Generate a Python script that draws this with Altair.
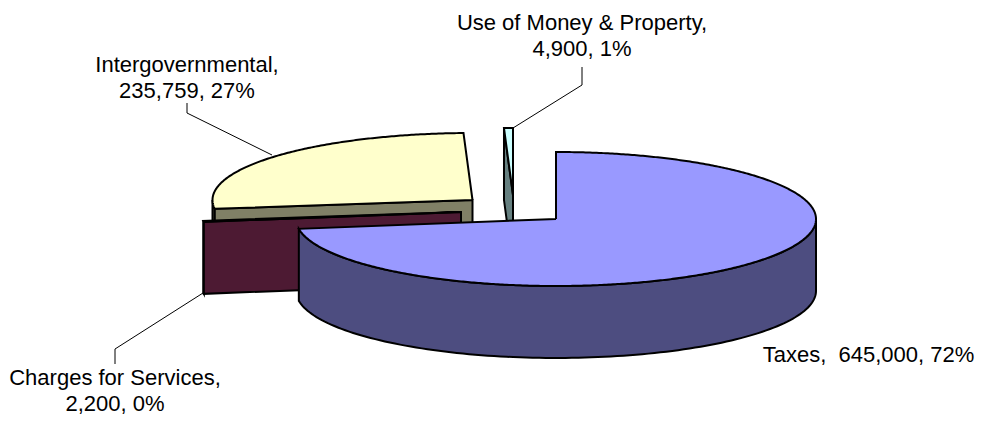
import altair as alt
import numpy as np
import pandas as pd

categories = ["Taxes", "Charges for Services", "Intergovernmental", "Use of Money & Property"]
amounts = [645000, 2200, 235759, 4900]
top_colors = ["#9999FF", "#993366", "#FFFFCC", "#CCFFFF"]
wall_colors = ["#4D4D80", "#4D1A33", "#808066", "#668080"]
apex_x = [556, 461, 472.5, 513]
apex_y = [219, 212, 200, 195]
paint_order = [2, 3, 1, 0]

label_lines = [
    ["Taxes,\u00a0 645,000, 72%"],
    ["Charges for Services,", "2,200, 0%"],
    ["Intergovernmental,", "235,759, 27%"],
    ["Use of Money & Property,", "4,900, 1%"],
]
label_x = [868.5, 115, 187, 582]
label_y = [355, 377.5, 65, 23]
leader_x = [[], [203, 115, 115], [272, 187, 187], [513, 582, 582]]
leader_y = [[], [293, 349, 364], [155, 113, 103], [128, 85, 67]]

RX, RY, DEPTH = 260, 67, 72
W, H = 968, 408
xs = alt.Scale(domain=[8, 8 + W], range=[0, W], nice=False, zero=False)
ys = alt.Scale(domain=[8 + H, 8], range=[H, 0], nice=False, zero=False)

share = np.array(amounts) / sum(amounts) * 360
ends = np.cumsum(share)
starts = ends - share


def rim(k, a, drop=0):
    r = np.radians(a)
    return apex_x[k] + RX * np.sin(r), apex_y[k] - RY * np.cos(r) + drop


def poly(points, fill, sw=2):
    df = pd.DataFrame(points, columns=["x", "y"])
    df["i"] = range(len(df))
    return alt.Chart(df).mark_line(fill=fill, stroke="black", strokeWidth=sw).encode(
        x=alt.X("x:Q", scale=xs, axis=None),
        y=alt.Y("y:Q", scale=ys, axis=None),
        order="i:Q",
    )


layers = []
for k in paint_order:
    s, e = starts[k], ends[k]
    cx, cy = apex_x[k], apex_y[k]
    # outer wall, the part of the rim facing the viewer
    a, b = max(s, 90), min(e, 270)
    if a < b:
        t = np.linspace(a, b, 120)
        pts = [rim(k, v) for v in t] + [rim(k, v, DEPTH) for v in t[::-1]]
        layers.append(poly(pts + pts[:1], wall_colors[k]))
    # radial cut face
    if s > 180:
        p = rim(k, s)
        q = rim(k, s, DEPTH)
        pts = [p, (cx, cy), (cx, cy + DEPTH), q, p]
        layers.append(poly(pts, wall_colors[k]))
    # top face
    t = np.linspace(s, e, max(3, int((e - s) * 2)))
    pts = [(cx, cy)] + [rim(k, v) for v in t] + [(cx, cy)]
    layers.append(poly(pts, top_colors[k]))

for k in range(len(categories)):
    if leader_x[k]:
        df = pd.DataFrame({"x": leader_x[k], "y": leader_y[k], "i": range(len(leader_x[k]))})
        layers.append(alt.Chart(df).mark_line(color="black", strokeWidth=1).encode(
            x=alt.X("x:Q", scale=xs, axis=None),
            y=alt.Y("y:Q", scale=ys, axis=None),
            order="i:Q",
        ))

rows = []
for k in range(len(categories)):
    for j, line in enumerate(label_lines[k]):
        rows.append({"x": label_x[k], "y": label_y[k] + j * 26, "t": line})
layers.append(alt.Chart(pd.DataFrame(rows)).mark_text(
    font="Liberation Sans", fontSize=22, color="black", align="center", baseline="middle"
).encode(
    x=alt.X("x:Q", scale=xs, axis=None),
    y=alt.Y("y:Q", scale=ys, axis=None),
    text="t:N",
))

chart = alt.layer(*layers).properties(
    width=W, height=H, padding=0, autosize=alt.AutoSizeParams(type="none"), background="white"
).configure_view(stroke=None)

chart.save("out.html", embed_options={"renderer": "svg", "actions": False})
